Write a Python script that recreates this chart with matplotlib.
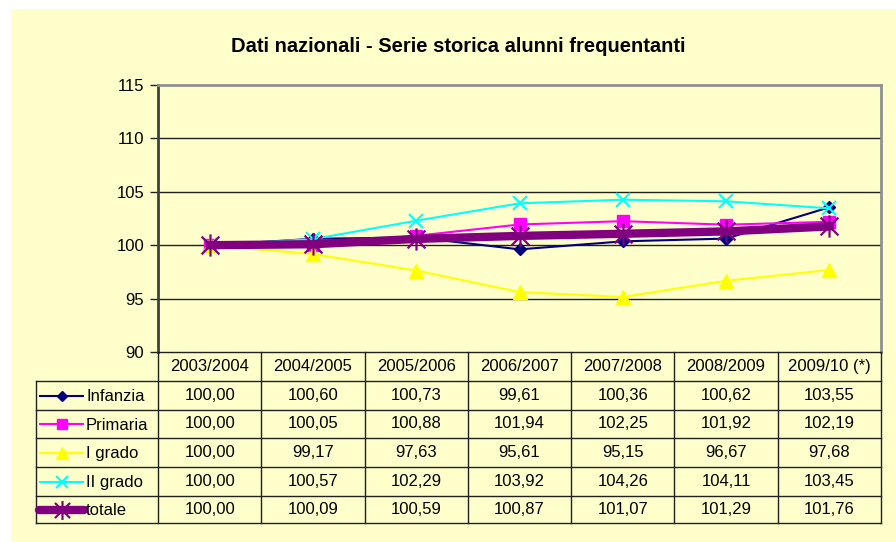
import matplotlib
matplotlib.use("Agg")
import matplotlib.pyplot as plt
from matplotlib.patches import Rectangle
from matplotlib.path import Path
import numpy as np

plt.rcParams['font.family'] = ['Liberation Sans', 'DejaVu Sans']

years = ["2003/2004", "2004/2005", "2005/2006", "2006/2007", "2007/2008", "2008/2009", "2009/10 (*)"]
infanzia = [100.00, 100.60, 100.73, 99.61, 100.36, 100.62, 103.55]
primaria = [100.00, 100.05, 100.88, 101.94, 102.25, 101.92, 102.19]
i_grado = [100.00, 99.17, 97.63, 95.61, 95.15, 96.67, 97.68]
ii_grado = [100.00, 100.57, 102.29, 103.92, 104.26, 104.11, 103.45]
totale = [100.00, 100.09, 100.59, 100.87, 101.07, 101.29, 101.76]
series_names = ["Infanzia", "Primaria", "I grado", "II grado", "totale"]
yticks = [90, 95, 100, 105, 110, 115]

W, H = 896, 542
fig = plt.figure(figsize=(W / 100, H / 100), dpi=100)
fig.patch.set_facecolor("white")
bg = "#FFFFCC"

def fx(px):
    return px / W

def fy(py):
    return 1 - py / H

bax = fig.add_axes([fx(11), 0, 1 - fx(11), 1 - 9 / H], zorder=-5)
bax.set_facecolor(bg)
bax.set_xticks([]); bax.set_yticks([])
for s in bax.spines.values():
    s.set_visible(False)

# star marker (X + vertical)
star = Path([(-1, -1), (1, 1), (-1, 1), (1, -1), (0, -1.25), (0, 1.25)],
            [Path.MOVETO, Path.LINETO, Path.MOVETO, Path.LINETO, Path.MOVETO, Path.LINETO])

styles = [
    dict(color="#000080", lw=1.5, marker="D", ms=6, mfc="#000080", mec="#000080"),
    dict(color="#FF00FF", lw=1.5, marker="s", ms=8, mfc="#FF00FF", mec="#FF00FF"),
    dict(color="#FFFF00", lw=1.5, marker="^", ms=10, mfc="#FFFF00", mec="#FFFF00"),
    dict(color="#00FFFF", lw=1.5, marker="x", ms=10, mec="#00FFFF", mew=1.5),
    dict(color="#800080", lw=6, marker=star, ms=16, mec="#800080", mew=1.6),
]
data = [infanzia, primaria, i_grado, ii_grado, totale]

L, R, T, B = 158, 881, 85, 352
ax = fig.add_axes([fx(L), fy(B), fx(R - L), (B - T) / H], zorder=1)
ax.set_facecolor(bg)
x = np.arange(len(years))
for vals, st in zip(data, styles):
    ax.plot(x, vals, zorder=3, clip_on=False, **st)
ax.set_xlim(-0.5, len(years) - 0.5)
ax.set_ylim(90, 115)
ax.set_yticks(yticks)
ax.set_yticklabels([str(t) for t in yticks], fontsize=12)
ax.set_xticks([])
for t in [95, 100, 105, 110]:
    ax.axhline(t, color="#202020", lw=1, zorder=1)
ax.spines['left'].set_color("#404040")
ax.spines['left'].set_linewidth(2)
ax.spines['top'].set_color("#909090")
ax.spines['top'].set_linewidth(2)
ax.spines['right'].set_color("#909090")
ax.spines['right'].set_linewidth(2)
ax.spines['bottom'].set_visible(False)
ax.tick_params(axis='y', length=6, width=1, color="#202020", pad=4)

fig.text(fx(458), fy(46), "Dati nazionali - Serie storica alunni frequentanti",
         ha="center", va="center", fontsize=14.5, fontweight="bold")

# table
tax = fig.add_axes([0, 0, 1, 1], zorder=2)
tax.set_xlim(0, W)
tax.set_ylim(H, 0)
tax.axis("off")
tax.patch.set_alpha(0)
col_edges = np.linspace(L, R, len(years) + 1)
row_edges = [352, 381, 410, 438, 467, 496, 523]
leg_left = 36
lc = "#202020"
for xe in col_edges:
    tax.plot([xe, xe], [row_edges[0], row_edges[-1]], color=lc, lw=1)
tax.plot([leg_left, leg_left], [row_edges[1], row_edges[-1]], color=lc, lw=1)
tax.plot([L, R], [row_edges[0], row_edges[0]], color=lc, lw=1)
for ye in row_edges[1:]:
    tax.plot([leg_left, R], [ye, ye], color=lc, lw=1)

for j, yr in enumerate(years):
    cx = (col_edges[j] + col_edges[j + 1]) / 2
    tax.text(cx, (row_edges[0] + row_edges[1]) / 2, yr, ha="center", va="center", fontsize=12)

for i, (name, vals, st) in enumerate(zip(series_names, data, styles)):
    cy = (row_edges[i + 1] + row_edges[i + 2]) / 2
    for j, v in enumerate(vals):
        cx = (col_edges[j] + col_edges[j + 1]) / 2
        tax.text(cx, cy, f"{v:.2f}".replace(".", ","), ha="center", va="center", fontsize=12)
    tax.plot([39, 84], [cy, cy], color=st["color"], lw=st["lw"],
             solid_capstyle="round" if i == 4 else "butt")
    tax.plot([61.5], [cy], linestyle="none", marker=st["marker"], ms=st["ms"] * 0.85,
             mfc=st.get("mfc", "none"), mec=st.get("mec"), mew=st.get("mew", 1))
    tax.text(86, cy + 1, name, ha="left", va="center", fontsize=12)

fig.savefig("out.png", dpi=100, facecolor=fig.get_facecolor())
